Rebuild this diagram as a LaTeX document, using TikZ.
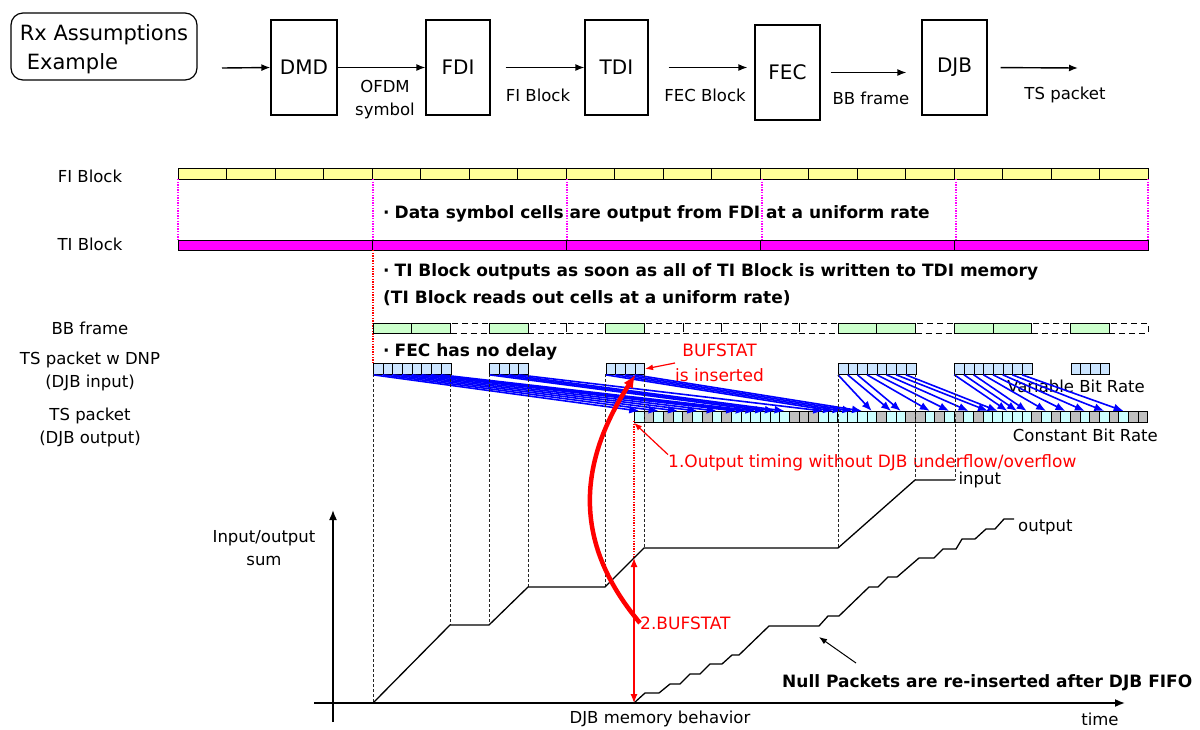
\documentclass[tikz,border=0pt]{standalone}
\usepackage{fontspec}
\setmainfont{DejaVu Sans}
\usetikzlibrary{arrows.meta}
\definecolor{fiyellow}{HTML}{FFFF99}
\definecolor{tiviolet}{HTML}{FF00FF}
\definecolor{bbgreen}{HTML}{CCFFCC}
\definecolor{tsblue}{HTML}{CCE5FF}
\definecolor{cbrcyan}{HTML}{CCFFFF}
\definecolor{nullgrey}{HTML}{C0C0C0}

\begin{document}
\begin{tikzpicture}[x=1pt,y=-1pt,
    blk/.style={draw,line width=1.2pt,minimum width=66pt,minimum height=95pt,inner sep=0pt,font=\fontsize{20}{24}\selectfont},
    flow/.style={-{Latex[length=9pt,width=7pt]},line width=1.4pt},
    lbl/.style={font=\fontsize{16.5}{23}\selectfont,align=center,inner sep=0pt},
    note/.style={font=\bfseries\fontsize{17}{20}\selectfont,anchor=west,inner sep=0pt},
    redtxt/.style={font=\fontsize{17}{25}\selectfont,text=red,align=center,inner sep=0pt},
    tsin/.style={draw,fill=tsblue,line width=0.8pt,inner sep=0pt,minimum width=9.6875pt,minimum height=11pt,anchor=north west},
    tsout/.style={tsin,fill=cbrcyan},
    tsnull/.style={tsin,fill=nullgrey},
    pkt/.style={-{Latex[length=10pt,width=8pt]},blue,line width=1.6pt},
    guide/.style={dash pattern=on 3pt off 2pt,line width=0.7pt,black!85},
    dotline/.style={dash pattern=on 1.3pt off 1.3pt,line width=1.4pt},
    curve/.style={line width=1.3pt},
    redarr/.style={-{Latex[length=8pt,width=6pt]},red,line width=1.2pt}]
    \useasboundingbox (0,0) rectangle (1200,729);

    % receiver chain
    \draw[rounded corners=12pt,line width=1.2pt] (11,13) rectangle (197,80);
    \node[align=left,inner sep=0pt,font=\fontsize{21}{29}\selectfont] (rx) at (104,49)
          {Rx Assumptions\\\hspace*{7pt}Example};
    \node[blk] (dmd) at (304,67.5) {DMD};
    \node[blk,minimum width=64pt] (fdi) at (458,67.5) {FDI};
    \node[blk,minimum width=63pt] (tdi) at (616.5,67.5) {TDI};
    \node[blk,minimum width=65pt] (fec) at (787.5,72.5) {FEC};
    \node[blk,minimum width=65pt] (djb) at (954.5,67.5) {DJB};
    \coordinate (src) at (222,68);
    \coordinate (snk) at (1078,68);
    \draw[flow] (src) -- (dmd.west);
    \draw[flow] (dmd.east) -- (fdi.west);
    \draw[flow,shorten <=15pt] (fdi.east) -- (tdi.west);
    \draw[flow,shorten <=20pt,shorten >=7pt] (tdi.east) -- (tdi.east -| fec.west);
    \draw[flow,shorten <=10pt,shorten >=15pt] (fec.east) -- (fec.east -| djb.west);
    \draw[flow,shorten <=13pt] (djb.east) -- (snk);
    \node[lbl] (ofdm) at (385,100) {OFDM\\symbol};
    \node[lbl] (fiblk) at (538,95) {FI Block};
    \node[lbl] (fecblk) at (705,95) {FEC Block};
    \node[lbl] (bbfr) at (871,98) {BB frame};
    \node[lbl] (tspk) at (1065,95) {TS packet};

    % row names
    \node[lbl] (rowfi) at (90,176) {FI Block};
    \node[lbl] (rowti) at (90,244) {TI Block};
    \node[lbl] (rowbb) at (90,328) {BB frame};
    \node[lbl] (rowin) at (90,371) {TS packet w DNP\\(DJB input)};
    \node[lbl] (rowout) at (90,427) {TS packet\\(DJB output)};

    % FI and TI blocks
    \foreach \i in {0,...,19}
        \draw[fill=fiyellow,line width=0.9pt] ({178+48.5*\i},168) rectangle ++(48.5,11);
    \foreach \x in {178,373,567,762,956,1148}
        \draw[tiviolet,dotline] (\x,179) -- (\x,240);
    \foreach \i in {0,...,4}
        \draw[fill=tiviolet,line width=0.9pt] ({178+194*\i},240) rectangle ++(194,10);
    \draw[red,dotline] (373,250) -- (373,363);
    \node[note] (n1) at (383,214) {·\hspace{5pt}Data symbol cells are output from FDI at a uniform rate};
    \node[note] (n2) at (383,272) {·\hspace{5pt}TI Block outputs as soon as all of TI Block is written to TDI memory};
    \node[note] (n3) at (383,298) {(TI Block reads out cells at a uniform rate)};

    % BB frames
    \foreach \i in {0,1,3,6,12,13,15,16,18}
        \draw[fill=bbgreen,line width=0.9pt] ({373+38.75*\i},323) rectangle ++(38.75,10);
    \foreach \i in {2,4,5,7,8,9,10,11,14,17,19}
        \draw[dash pattern=on 6pt off 4pt,line width=0.9pt] ({373+38.75*\i},323) rectangle ++(38.75,10);
    \node[note] (n4) at (383,352) {·\hspace{5pt}FEC has no delay};

    % TS packets in / out
    \foreach \c in {0,1,3,6,12,13,15,16,18}{
        \foreach \j in {0,...,3}{
            \pgfmathtruncatemacro\s{4*\c+\j}
            \node[tsin] (in\s) at ({373+9.6875*\s},363) {};
        }
    }
    \foreach \k in {0,2,4,6,8,10,11,12,13,14,15,19,20,21,22,23,24,26,27,30,32,34,36,37,38,39,40,42,44,46,48,50}
        \node[tsout] (out\k) at ({634+9.6875*\k},411) {};
    \foreach \k in {1,3,5,7,9,16,17,18,25,28,29,31,33,35,41,43,45,47,49,51,52}
        \node[tsnull] (out\k) at ({634+9.6875*\k},411) {};
    \node[lbl,anchor=east] (vbr) at (1145,386) {Variable Bit Rate};
    \node[lbl,anchor=east] (cbr) at (1158,435) {Constant Bit Rate};
    \foreach \s/\t in {0/0,1/2,2/4,3/6,4/8,5/10,6/11,7/12,12/13,13/14,14/15,15/19,24/20,25/21,26/22,27/23,
                       48/24,49/26,50/27,51/30,52/32,53/34,54/36,55/37,60/38,61/39,62/40,63/42,64/44,65/46,66/48,67/50}
        \draw[pkt] (in\s.south west) -- (out\t.north);

    % BUFSTAT notes
    \node[redtxt,anchor=west] (bufnote) at (675,363) {BUFSTAT\\is inserted};
    \draw[redarr] (bufnote.west) -- (in27.east);
    \node[redtxt,anchor=west] (note1) at (668,463) {1.Output timing without DJB underflow/overflow};
    \draw[redarr] (note1.north west) -- (out0.south west);

    % guides down to the graph
    \foreach \x/\y in {373/703,450/625,489/625,528/587,605/587,644/548,838/548,915/480,955/480}
        \draw[guide] (\x,374) -- (\x,\y);
    \draw[red,dotline] (634,421) -- (634,558);

    % DJB memory graph
    \coordinate (ybot) at (333,722);
    \coordinate (ytop) at (333,510);
    \coordinate (xlft) at (314,703);
    \coordinate (xrgt) at (1125,703);
    \draw[-{Latex[length=10pt,width=8pt]},line width=1.6pt] (ybot) -- (ytop);
    \draw[-{Latex[length=10pt,width=8pt]},line width=1.6pt] (xlft) -- (xrgt);
    \node[lbl] (ylab) at (264,548) {Input/output\\sum};
    \node[lbl] (xlab) at (660,719) {DJB memory behavior};
    \node[lbl] (tlab) at (1100,719) {time};
    \draw[curve] (373,703) -- (450,625) -- (489,625) -- (528,587) -- (605,587) -- (644,548)
        -- (838,548) -- (915,480) -- (955,480) node[lbl,anchor=west,xshift=3pt] (inlab) {input};
    \draw[curve] (634,703) -- (645,693) -- (659,693) -- (670,684) -- (680,684) -- (690,674) -- (700,674)
        -- (710,664) -- (722,664) -- (732,655) -- (739,655) -- (769,626) -- (819,626) -- (828,616)
        -- (839,616) -- (869,587) -- (878,587) -- (888,577) -- (897,577) -- (919,558) -- (934,558)
        -- (943,549) -- (956,549) -- (962,539) -- (975,539) -- (986,529) -- (995,529) -- (1004,519)
        -- (1014,519);
    \node[lbl,anchor=west] (outlab) at (1018,527) {output};
    \node[note] (nulltxt) at (782,683) {Null Packets are re-inserted after DJB FIFO};
    \coordinate (nullfrom) at (856,663);
    \coordinate (nullto) at (819,637);
    \draw[-{Latex[length=8pt,width=6pt]},line width=1pt] (nullfrom) -- (nullto);

    % BUFSTAT level
    \coordinate (lvtop) at (634,558);
    \coordinate (lvbot) at (634,703);
    \draw[red,line width=1.2pt,{Latex[length=9pt,width=7pt]}-{Latex[length=9pt,width=7pt]}] (lvtop) -- (lvbot);
    \node[redtxt,anchor=west] (note2) at (640,623) {2.BUFSTAT};
    \draw[red,line width=4.5pt,-{Latex[length=13pt,width=11pt]}] (note2.west) .. controls (570,540) and (580,460) .. (in26.south east);
\end{tikzpicture}
\end{document}
